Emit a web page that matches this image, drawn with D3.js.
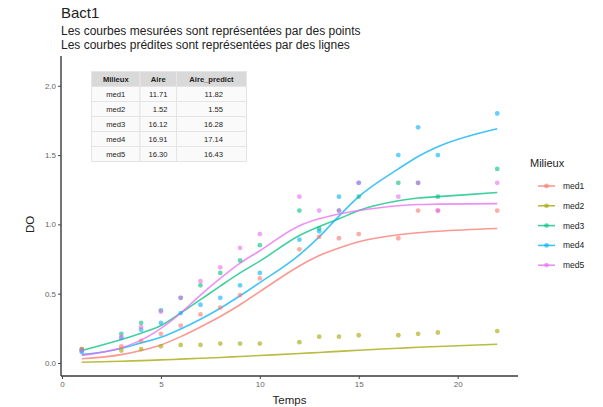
<!DOCTYPE html>
<html>
<head>
<meta charset="utf-8">
<script src="https://cdn.jsdelivr.net/npm/d3@7"></script>
<style>
  body { margin: 0; background: #fff; }
  svg { font-family: "Liberation Sans", Arial, sans-serif; }
</style>
</head>
<body>
<div id="chart"></div>
<script>
// measured times
const temps = [1, 3, 4, 5, 6, 7, 8, 9, 10, 12, 13, 14, 15, 17, 18, 19, 22];
const milieux = ["med1", "med2", "med3", "med4", "med5"];
const colors = ["#F8766D", "#A3A500", "#00BF7D", "#00B0F6", "#E76BF3"];

// measured DO (points)
const med1Obs = [0.10, 0.12, 0.16, 0.21, 0.27, 0.35, 0.40, 0.49, 0.61, 0.82, 0.91, 0.90, 0.93, 0.90, 1.10, 1.10, 1.10];
const med2Obs = [0.10, 0.09, 0.10, 0.12, 0.13, 0.13, 0.14, 0.14, 0.14, 0.15, 0.19, 0.19, 0.20, 0.20, 0.21, 0.22, 0.23];
const med3Obs = [0.09, 0.21, 0.29, 0.38, 0.47, 0.56, 0.65, 0.74, 0.85, 1.10, 0.97, 1.10, 1.20, 1.30, 1.30, 1.20, 1.40];
const med4Obs = [0.08, 0.18, 0.24, 0.29, 0.36, 0.42, 0.47, 0.56, 0.65, 0.89, 0.95, 1.20, 1.30, 1.50, 1.70, 1.50, 1.80];
const med5Obs = [0.09, 0.19, 0.26, 0.37, 0.47, 0.59, 0.69, 0.83, 0.93, 1.20, 1.10, 1.10, 1.30, 1.20, 1.30, 1.10, 1.30];

// predicted DO (lines)
const med1Pred = [0.03, 0.06, 0.09, 0.13, 0.19, 0.26, 0.335, 0.42, 0.515, 0.70, 0.775, 0.83, 0.875, 0.925, 0.94, 0.95, 0.97];
const med2Pred = [0.005, 0.012, 0.017, 0.022, 0.028, 0.034, 0.04, 0.047, 0.054, 0.068, 0.076, 0.084, 0.092, 0.106, 0.113, 0.119, 0.135];
const med3Pred = [0.09, 0.17, 0.215, 0.27, 0.36, 0.457, 0.555, 0.65, 0.735, 0.92, 0.985, 1.04, 1.10, 1.17, 1.19, 1.20, 1.23];
const med4Pred = [0.06, 0.105, 0.145, 0.185, 0.245, 0.315, 0.395, 0.485, 0.58, 0.78, 0.91, 1.06, 1.20, 1.40, 1.49, 1.56, 1.69];
const med5Pred = [0.055, 0.11, 0.165, 0.25, 0.36, 0.49, 0.61, 0.72, 0.81, 0.99, 1.04, 1.075, 1.10, 1.135, 1.143, 1.146, 1.15];

// table
const tableHeader = ["Milieux", "Aire", "Aire_predict"];
const aire = ["11.71", "1.52", "16.12", "16.91", "16.30"];
const airePredict = ["11.82", "1.55", "16.28", "17.14", "16.43"];

const xTicks = [0, 5, 10, 15, 20];
const yTicks = [0, 0.5, 1, 1.5, 2];

const obs = [med1Obs, med2Obs, med3Obs, med4Obs, med5Obs];
const pred = [med1Pred, med2Pred, med3Pred, med4Pred, med5Pred];

const W = 603, H = 407;
const panel = { left: 61, right: 518, top: 56, bottom: 376 };

const svg = d3.select("#chart").append("svg")
  .attr("width", W).attr("height", H);

const x = d3.scaleLinear().domain([-0.05, 23.05]).range([panel.left, panel.right]);
const y = d3.scaleLinear().domain([-0.094, 2.215]).range([panel.bottom, panel.top]);

// title + subtitle
svg.append("text").attr("x", 61).attr("y", 18)
  .text("Bact1").style("font-size", "15px").attr("fill", "#222");
svg.append("text").attr("x", 61).attr("y", 35)
  .text("Les courbes mesurées sont représentées par des points")
  .style("font-size", "12px").attr("fill", "#222");
svg.append("text").attr("x", 61).attr("y", 48.5)
  .text("Les courbes prédites sont représentées par des lignes")
  .style("font-size", "12px").attr("fill", "#222");

// lines
const line = d3.line()
  .x((d, i) => x(temps[i]))
  .y(d => y(d))
  .curve(d3.curveMonotoneX);

svg.append("g").selectAll("path")
  .data(pred)
  .join("path")
  .attr("d", d => line(d))
  .attr("fill", "none")
  .attr("stroke", (d, i) => colors[i])
  .attr("stroke-width", 1.6)
  .attr("stroke-opacity", 0.75);

// points
obs.forEach((serie, k) => {
  svg.append("g").selectAll("circle")
    .data(serie)
    .join("circle")
    .attr("cx", (d, i) => x(temps[i]))
    .attr("cy", d => y(d))
    .attr("r", 2.4)
    .attr("fill", colors[k])
    .attr("fill-opacity", 0.6);
});

// axes
const xAxis = svg.append("g")
  .attr("transform", `translate(0,${panel.bottom})`)
  .call(d3.axisBottom(x).tickValues(xTicks).tickSize(3).tickPadding(2));
const yAxis = svg.append("g")
  .attr("transform", `translate(${panel.left},0)`)
  .call(d3.axisLeft(y).tickValues(yTicks).tickFormat(d3.format(".1f")).tickSize(3).tickPadding(2));

[xAxis, yAxis].forEach(a => {
  a.select(".domain").attr("stroke", "#3a3a3a").attr("stroke-width", 1.4);
  a.selectAll(".tick line").attr("stroke", "#444");
  a.selectAll(".tick text").attr("fill", "#666").style("font-size", "8px")
    .style("font-family", "Liberation Sans, Arial, sans-serif");
});
// keep axis lines to the panel extents
xAxis.select(".domain").attr("d", `M${panel.left},0H${panel.right}`);
yAxis.select(".domain").attr("d", `M0,${panel.top}V${panel.bottom}`);

svg.append("text").attr("x", x(11.5)).attr("y", 404)
  .attr("text-anchor", "middle").text("Temps")
  .style("font-size", "11.5px").attr("fill", "#222");
svg.append("text")
  .attr("transform", `translate(34,${y(1)}) rotate(-90)`)
  .attr("text-anchor", "middle").text("DO")
  .style("font-size", "11.5px").attr("fill", "#222");

// table annotation
const tab = { top: 71.5, rowH: 15, cols: [91.5, 140, 176.5, 246.5] };
const tg = svg.append("g");
const rows = milieux.map((m, i) => [m, aire[i], airePredict[i]]);
const allRows = [tableHeader].concat(rows);
allRows.forEach((r, ri) => {
  r.forEach((cell, ci) => {
    const x0 = tab.cols[ci], x1 = tab.cols[ci + 1];
    const y0 = tab.top + ri * tab.rowH;
    tg.append("rect")
      .attr("x", x0).attr("y", y0)
      .attr("width", x1 - x0).attr("height", tab.rowH)
      .attr("fill", ri === 0 ? "#d9d9d9" : "#fafafa")
      .attr("stroke", ri === 0 ? "#e6e6e6" : "#e4e4e4")
      .attr("stroke-width", 1);
    const t = tg.append("text")
      .attr("y", y0 + tab.rowH / 2 + 2.7)
      .text(cell)
      .style("font-size", "7.6px")
      .attr("fill", "#222");
    if (ri === 0) t.style("font-weight", "bold");
    if (ri === 0 || ci === 0) {
      t.attr("x", (x0 + x1) / 2).attr("text-anchor", "middle");
    } else {
      t.attr("x", ci === 1 ? 167.5 : 223).attr("text-anchor", "end");
    }
  });
});

// legend
const lg = svg.append("g").attr("transform", "translate(530,0)");
lg.append("text").attr("x", 0).attr("y", 167).text("Milieux")
  .style("font-size", "11px").attr("fill", "#222");
milieux.forEach((m, i) => {
  const yy = 186 + i * 19.8;
  lg.append("line")
    .attr("x1", 8).attr("x2", 25).attr("y1", yy).attr("y2", yy)
    .attr("stroke", colors[i]).attr("stroke-width", 1.6).attr("stroke-opacity", 0.75);
  lg.append("circle").attr("cx", 16.5).attr("cy", yy).attr("r", 2.4)
    .attr("fill", colors[i]).attr("fill-opacity", 0.6);
  lg.append("text").attr("x", 33).attr("y", yy + 3)
    .text(m).style("font-size", "8.5px").attr("fill", "#222");
});
</script>
</body>
</html>
